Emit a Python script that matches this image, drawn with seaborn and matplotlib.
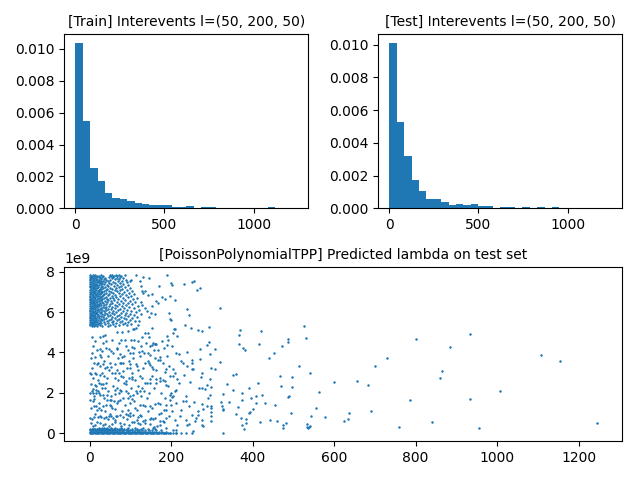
import numpy as np
import pandas as pd
import matplotlib
matplotlib.use('Agg')
import matplotlib.pyplot as plt
import seaborn as sns

blue = '#1f77b4'
max_gap = 1245

train_heights = [.01040, .00545, .00250, .00170, .00095, .00063, .00057, .00045, .00032, .00025,
                 .00020, .00020, .00020, .00008, .00008, .00012, 0, .00006, .00006, 0,
                 0, 0, 0, 0, 0, 0, .00008, 0, 0, 0]
test_heights = [.01012, .00525, .00322, .00172, .00105, .00055, .00060, .00037, .00018, .00024,
                .00018, .00024, .00012, .00012, 0, .00006, .00006, 0, .00006, 0,
                .00006, 0, .00006, 0, 0, 0, 0, 0, 0, 0]

# dense block top left, one row of x per y level
top_y = [7.84, 7.79, 7.74, 7.69, 7.64, 7.59, 7.54, 7.49, 7.44, 7.39, 7.34, 7.29, 7.24,
         7.19, 7.14, 7.09, 7.04, 6.99, 6.94, 6.89, 6.84, 6.79, 6.74, 6.69, 6.64, 6.59,
         6.54, 6.49, 6.44, 6.39, 6.34, 6.29, 6.24, 6.19, 6.14, 6.09, 6.04, 5.99, 5.94,
         5.89, 5.84, 5.79, 5.74, 5.69, 5.64, 5.59, 5.54, 5.49, 5.44, 5.39, 5.34, 5.29]
top_x = [
    [1, 8, 14, 27, 49, 56, 64, 71],
    [3, 11, 19, 24, 33, 52, 60, 68, 78],
    [0, 6, 16, 22, 30, 47, 58, 75],
    [4, 9, 13, 26, 37, 54, 66, 83],
    [2, 7, 18, 29, 35, 62, 73],
    [0, 11, 15, 23, 40, 51, 88],
    [5, 9, 20, 27, 32, 45, 69, 79],
    [1, 13, 17, 25, 38, 57, 91],
    [3, 7, 22, 30, 48, 63, 74],
    [0, 10, 15, 28, 34, 53, 82],
    [6, 12, 19, 24, 42, 67, 95],
    [2, 8, 16, 31, 46, 59, 77],
    [0, 4, 11, 21, 27, 37, 72, 86],
    [7, 14, 18, 33, 50, 64, 98],
    [3, 9, 25, 29, 43, 55, 80],
    [1, 12, 16, 22, 39, 61, 75, 92],
    [5, 8, 20, 27, 35, 48, 68, 104],
    [0, 10, 14, 24, 31, 52, 84],
    [3, 7, 17, 29, 41, 58, 71, 96],
    [1, 12, 21, 26, 36, 47, 79, 110],
    [5, 9, 15, 33, 44, 62, 88],
    [0, 8, 18, 23, 30, 54, 74, 101],
    [2, 11, 14, 27, 39, 65, 93],
    [6, 10, 20, 25, 34, 49, 57, 82, 115],
    [0, 4, 13, 17, 31, 42, 70, 106],
    [2, 8, 22, 28, 46, 60, 87],
    [5, 11, 15, 24, 37, 53, 77, 99],
    [0, 9, 19, 30, 43, 66, 112],
    [3, 7, 13, 26, 33, 56, 83, 94],
    [1, 10, 17, 22, 40, 50, 72, 104],
    [5, 12, 20, 29, 35, 61, 89],
    [0, 8, 15, 24, 47, 68, 79, 118],
    [3, 11, 18, 32, 41, 55, 97],
    [1, 6, 14, 27, 37, 63, 85, 108],
    [9, 12, 21, 25, 44, 52, 75],
    [0, 4, 17, 30, 39, 69, 92, 120],
    [2, 7, 13, 23, 34, 58, 81, 102],
    [5, 10, 19, 28, 48, 64, 113],
    [0, 8, 15, 26, 38, 54, 76, 90],
    [3, 12, 17, 31, 43, 60, 99],
    [1, 6, 10, 21, 35, 50, 71, 86, 108],
    [4, 8, 14, 24, 29, 45, 66, 95],
    [0, 11, 18, 33, 56, 78, 116],
    [2, 6, 13, 22, 40, 61, 84, 103],
    [5, 9, 16, 27, 36, 52, 73, 90],
    [0, 3, 12, 20, 31, 47, 68, 98],
    [7, 10, 15, 25, 42, 58, 80, 111],
    [1, 5, 13, 18, 34, 54, 75, 94],
    [3, 8, 11, 23, 29, 46, 64, 87],
    [0, 6, 15, 20, 38, 57, 82, 101],
    [2, 9, 13, 26, 49, 71, 92],
    [5, 11, 17, 30, 44, 63],
]

# solid strip along the bottom
band_y = [.01, .07, .13, .19, .25]
band_x = [
    [0, 3, 6, 9, 12, 15, 18, 21, 24, 27, 30, 33, 36, 39, 42, 45, 48, 51, 54, 57, 60, 63, 66, 69, 72, 75, 78,
     81, 84, 87, 90, 93, 96, 99, 102, 105, 108, 111, 114, 117, 120, 123, 126, 129, 132, 135, 138, 141, 144,
     147, 150, 153, 156, 159, 162, 165, 168, 171, 175, 179, 183, 188, 193, 198, 205, 213, 224, 236, 250],
    [1, 4, 7, 10, 13, 16, 19, 22, 25, 28, 31, 34, 37, 40, 43, 46, 49, 52, 55, 58, 61, 64, 67, 70, 73, 76, 79,
     82, 85, 88, 91, 94, 97, 100, 103, 106, 109, 112, 115, 118, 121, 124, 127, 130, 134, 138, 143, 147, 152,
     157, 163, 170, 178, 187],
    [0, 3, 6, 9, 12, 15, 18, 21, 24, 27, 30, 33, 36, 39, 42, 45, 48, 51, 54, 57, 60, 63, 67, 71, 75, 79, 83,
     88, 93, 99, 105, 111, 116, 122, 129, 136, 145, 153, 164, 175],
    [2, 5, 8, 11, 14, 17, 20, 23, 26, 31, 34, 38, 41, 46, 50, 54, 60, 66, 72, 79, 85, 92, 103, 115, 127, 142, 160],
    [24, 31, 36, 43, 52, 62, 78, 94, 112, 131, 155],
]

# extra scatter between the strip and the dense block
fill_y = [4.56, 4.47, 4.33, 4.21, 4.12, 3.97, 3.84, 3.73, 3.58, 3.47, 3.35, 3.22, 3.11, 2.96, 2.84, 2.71, 2.61,
          2.47, 2.35, 2.22, 2.11, 1.97, 1.86, 1.74, 1.61, 1.47, 1.38, 1.24, 1.11, .96, .84, .69, .56, .43, .34]
fill_x = [
    [12, 41, 118, 177], [71, 139], [8, 88, 126, 201], [39, 66, 110, 183], [17, 93, 158], [6, 58, 134, 212],
    [44, 85, 123, 191], [3, 69, 107, 161], [36, 96, 142, 225], [10, 49, 78, 181], [26, 115, 194, 240],
    [6, 38, 91, 131], [47, 68, 118, 162], [14, 55, 103, 210], [34, 76, 152, 198], [9, 43, 97, 128],
    [21, 70, 112, 180], [40, 84, 140, 220], [15, 57, 119, 192], [37, 66, 102, 157], [5, 46, 88, 133],
    [22, 72, 117, 176], [11, 52, 126, 205], [35, 83, 141, 184], [7, 60, 110, 228], [24, 67, 98, 168],
    [41, 86, 130, 199], [4, 56, 111, 153], [37, 79, 143, 201], [13, 50, 89, 170], [26, 68, 127, 221],
    [6, 44, 92, 155], [18, 62, 108, 183], [38, 85, 124, 243], [9, 47, 76, 166],
]

# scattered points below the dense block
mid_x = [87, 114, 190, 131, 146, 123, 102, 100, 200, 202, 257, 252, 232, 170, 127, 129, 263, 136, 131, 144,
         154, 178, 162, 168, 185, 197, 209, 153, 150, 145, 160, 195, 239, 244, 197, 200, 125, 129, 135, 141,
         127, 121, 119, 113, 106, 206, 209, 234, 249, 266, 204, 214, 190, 192, 190, 155, 67, 79, 94, 108,
         129, 135, 143, 153, 146, 6, 25, 33, 37, 55, 78, 86, 110, 149, 160, 164,
         33, 102, 104, 160, 154, 25, 30, 12, 25, 29, 47, 52, 67, 74, 79, 98, 106, 120, 128, 143,
         149, 168, 172, 172, 219, 239, 20, 33, 18, 53, 61, 75, 82, 98, 113, 137, 146, 149, 154, 155,
         168, 205, 188, 186, 229, 250, 251, 250, 254, 0, 4, 16, 30, 25, 42, 61, 72, 83, 100, 105,
         82, 61, 90, 90, 105, 123, 147, 164, 173, 186, 205, 214, 231, 247, 4, 12, 23, 29, 33, 8,
         2, 8, 16, 26, 33, 15, 20, 31, 10, 2, 43, 61, 61, 75, 78, 94, 94, 100, 106, 105,
         113, 123, 128, 146, 149, 137, 164, 172, 188, 200, 209, 213, 196, 202, 196, 237, 237, 256, 244, 268,
         10, 16, 23, 29, 18, 33, 43, 49, 53, 49, 53, 61, 70, 74, 94, 100, 106, 123, 116, 123,
         135, 147, 160, 173, 188, 182, 176, 188, 213, 225, 250, 266, 0, 11, 20, 29, 34, 41, 47, 53,
         57, 63, 65, 74, 82, 94, 100, 119, 116, 137, 147, 151, 160, 173, 180, 188, 195, 214, 209, 237,
         240, 258, 262, 266, 4, 12, 25, 33, 55, 74, 97, 105, 119, 131, 137, 149, 157, 172, 188, 211,
         205, 254, 196, 186, 213]
mid_y = [7.85, 7.85, 7.84, 7.76, 7.68, 7.56, 7.61, 7.55, 7.45, 7.35, 7.53, 7.48, 7.38, 7.28, 7.28, 7.06, 7.11, 7.03, 6.95, 6.85,
         6.9, 6.73, 6.56, 6.45, 6.63, 6.78, 6.58, 6.32, 5.98, 5.78, 5.92, 5.98, 6.18, 5.88, 5.68, 5.63, 6.48, 6.35, 6.23, 6.07,
         5.9, 5.57, 5.35, 5.23, 5.18, 5.18, 5.18, 5.38, 5.23, 5.13, 4.99, 4.8, 4.82, 4.62, 4.38, 4.49, 5.02, 5.02, 5.07, 5.15,
         4.78, 4.98, 4.98, 5.23, 4.78, 4.78, 4.78, 4.82, 4.85, 4.62, 4.6, 4.6, 4.6, 4.32, 4.4, 4.42,
         4.49, 4.6, 4.29, 4.4, 4.37, 4.15, 4.07, 3.79, 3.87, 3.79, 4.15, 4.07, 4.15, 3.9, 3.79, 3.99, 3.99, 4.04, 4.07, 3.99,
         3.87, 4.1, 3.79, 3.65, 3.9, 4.04, 3.49, 3.41, 3.41, 3.29, 3.41, 3.46, 3.46, 3.41, 3.44, 3.46, 3.49, 3.36, 3.29, 3.16,
         3.62, 3.19, 3.16, 3.04, 3.46, 3.62, 3.49, 3.16, 3.16, 2.99, 2.94, 2.91, 2.99, 2.87, 3.27, 2.99, 2.99, 3.07, 3.24, 2.79,
         2.79, 2.74, 2.57, 2.44, 2.66, 2.82, 2.69, 2.66, 2.74, 2.57, 2.82, 2.66, 2.86, 2.52, 2.46, 2.41, 2.49, 2.46, 2.46, 2.19,
         1.99, 1.99, 1.99, 1.91, 1.91, 2.13, 2.08, 2.24, 1.69, 1.66, 1.91, 2.13, 1.96, 2.16, 2.08, 1.99, 1.74, 1.83, 1.91, 1.69,
         2.08, 2.08, 2.24, 1.99, 2.49, 2.49, 2.49, 2.57, 2.41, 1.99, 2.08, 2.13, 1.91, 1.79, 1.66, 1.83, 1.58, 1.53, 1.36, 2.24,
         1.36, 1.33, 1.24, 1.16, 1.16, 1.33, 1.66, 1.63, 1.66, 1.41, 1.36, 1.19, 1.58, 1.63, 1.13, .99, .91, 1.41, 1.16, .91,
         1.33, 1.33, 1.46, 1.46, 1.41, 1.13, .99, 1.16, 1.49, 1.16, .91, 1.08, .76, .78, .78, .78, .74, .79, .86, .83,
         .74, .66, .83, .91, .79, .91, .83, .79, .66, .66, .7, .74, .74, .58, .58, .74, .83, .41, .66, .66,
         .41, .58, .74, .91, .5, .41, .5, .38, .46, .5, .41, .53, .5, .58, .5, .45, .3, .41, .25, .16,
         .16, .08, 0, 0, 0]

# isolated points on the right
far_x = [270, 320, 526, 293, 276, 369, 420, 366, 531, 487, 487, 293, 288, 366, 416, 472, 376, 381, 271, 308,
         295, 452, 440, 271, 320, 730, 700, 514, 298, 308, 541, 276, 359, 352, 467, 497, 273, 295, 656, 600,
         413, 337, 683, 288, 470, 497, 276, 298, 391, 283, 352, 563, 374, 327, 295, 423, 408, 489, 487, 396,
         290, 374, 322, 342, 408, 430, 276, 455, 288, 298, 325, 364, 298, 555, 278, 327, 327, 401, 690, 298,
         393, 391, 359, 494, 636, 298, 543, 578, 371, 384, 634, 276, 443, 624, 298, 460, 418, 482, 384, 533,
         276, 374, 474, 278, 541, 538, 533, 536, 474, 759, 379, 327,
         801, 933, 884, 1108, 1154, 865, 860, 1007, 933, 786, 840, 955, 1245]
far_y = [7.18, 6.23, 5.33, 5.24, 5.08, 5.13, 5.08, 4.88, 4.73, 4.65, 4.54, 4.54, 4.39, 4.44, 4.44, 4.34, 4.24, 4.14, 4.19, 4.19,
         3.94, 3.99, 3.74, 3.69, 3.54, 3.74, 3.34, 3.34, 3.24, 3.19, 2.99, 2.99, 2.94, 2.89, 2.84, 2.79, 2.79, 2.69, 2.59, 2.54,
         2.49, 2.44, 2.39, 2.39, 2.34, 2.29, 2.24, 2.29, 2.24, 2.19, 2.14, 2.04, 1.99, 1.94, 1.89, 1.89, 1.84, 1.86, 1.81, 1.74,
         1.74, 1.64, 1.54, 1.54, 1.49, 1.49, 1.44, 1.39, 1.34, 1.34, 1.36, 1.29, 1.24, 1.24, 1.19, 1.21, 1.14, 1.19, 1.09, 1.04,
         1.04, .99, .94, .99, .99, .84, .84, .79, .74, .69, .69, .64, .64, .59, .59, .59, .54, .49, .49, .44,
         .39, .39, .39, .34, .34, .31, .30, .25, .25, .30, .20, 0,
         4.69, 4.94, 4.29, 3.89, 3.59, 3.09, 2.74, 2.09, 1.70, 1.65, .55, .25, .50]

xs = list(mid_x) + list(far_x)
ys = list(mid_y) + list(far_y)
for levels, rows in ((top_y, top_x), (band_y, band_x), (fill_y, fill_x)):
    for level, row in zip(levels, rows):
        xs += row
        ys += [level] * len(row)

edges = np.linspace(0, max_gap, 31)
mids = (edges[:-1] + edges[1:]) / 2
train = pd.DataFrame({'gap': mids, 'density': train_heights})
test = pd.DataFrame({'gap': mids, 'density': test_heights})
pred = pd.DataFrame({'gap': xs, 'lam': np.array(ys) * 1e9})

fig = plt.figure(figsize=(6.4, 4.8))
ax1 = fig.add_subplot(2, 2, 1)
ax2 = fig.add_subplot(2, 2, 2)
ax3 = fig.add_subplot(2, 1, 2)

sns.histplot(data=train, x='gap', weights='density', bins=30, binrange=(0, max_gap),
             color=blue, alpha=1, linewidth=0, ax=ax1)
sns.histplot(data=test, x='gap', weights='density', bins=30, binrange=(0, max_gap),
             color=blue, alpha=1, linewidth=0, ax=ax2)
sns.scatterplot(data=pred, x='gap', y='lam', s=1, color=blue, edgecolor=blue, linewidth=0.75, ax=ax3)

ax1.set_title('[Train] Interevents l=(50, 200, 50)', fontsize=10)
ax2.set_title('[Test] Interevents l=(50, 200, 50)', fontsize=10)
ax3.set_title('[PoissonPolynomialTPP] Predicted lambda on test set', fontsize=10)
for ax in (ax1, ax2, ax3):
    ax.set_ylabel('')
    ax.set_xlabel('')

fig.subplots_adjust(left=64.3 / 640, right=622.3 / 640, top=1 - 34.3 / 480, bottom=1 - 441 / 480,
                    wspace=0.287, hspace=0.337)
plt.savefig('out.png', dpi=100)
